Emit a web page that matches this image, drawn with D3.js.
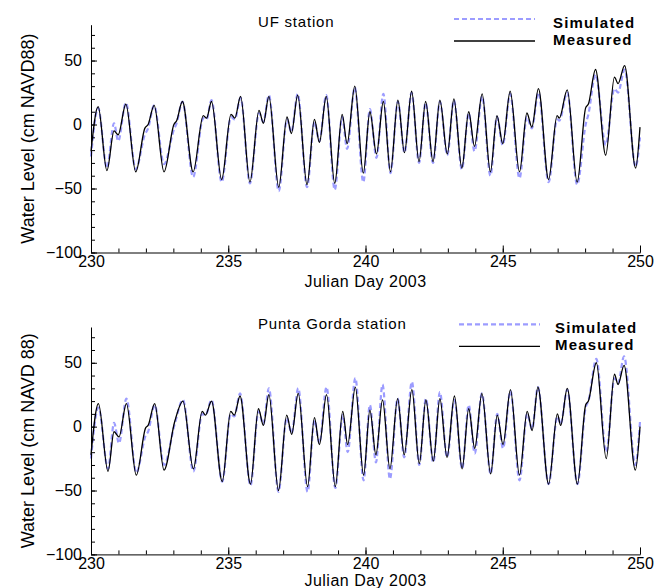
<!DOCTYPE html>
<html>
<head>
<meta charset="utf-8">
<script src="https://cdn.jsdelivr.net/npm/d3@7"></script>
<style>
  html, body { margin: 0; padding: 0; background: #fff; }
  svg { display: block; font-family: "Liberation Sans", Arial, sans-serif; }
</style>
</head>
<body>
<svg id="chart" width="670" height="588"></svg>
<script>
// Tidal water levels, Julian days 230-250 of 2003 (high/low turning points)
const ufDays = [230.00,230.26,230.58,230.84,230.99,231.27,231.63,231.96,232.08,232.30,232.66,233.02,233.12,233.33,233.72,234.09,234.21,234.39,234.76,235.10,235.24,235.45,235.79,236.12,236.28,236.48,236.84,237.14,237.30,237.53,237.87,238.14,238.32,238.57,238.88,239.15,239.33,239.61,239.92,240.16,240.40,240.65,240.91,241.18,241.42,241.68,241.95,242.19,242.46,242.71,242.98,243.22,243.51,243.76,243.97,244.25,244.55,244.79,245.00,245.27,245.61,245.88,246.06,246.30,246.67,246.98,247.06,247.35,247.71,248.02,248.12,248.38,248.75,249.07,249.20,249.44,249.84,250.00];
const ufMeasured = [-21,14,-36,-5,-8,16,-37,-3,0,15,-37,0,3,18,-37,7,5,18,-43,8,5,22,-45,11,1,22,-49,6,-7,23,-47,4,-14,22,-46,8,-15,30,-38,10,-23,18,-37,19,-22,26,-29,18,-29,19,-23,20,-34,10,-17,24,-37,7,-15,26,-37,9,-2,28,-43,7,5,27,-45,13,16,43,-24,37,32,46,-34,-2];
const ufSimulated = [-25,13,-34,1,-13,17,-35,-8,-3,15,-31,-4,1,18,-41,5,4,19,-45,6,4,21,-46,9,2,23,-52,4,-6,24,-49,2,-13,23,-51,6,-19,29,-45,12,-26,24,-38,18,-22,25,-30,17,-30,18,-24,19,-35,9,-21,22,-40,6,-16,24,-42,6,-3,25,-45,4,3,25,-47,0,8,39,-16,28,25,43,-33,-10];

const pgDays = [230.00,230.27,230.62,230.84,231.02,231.29,231.65,231.99,232.08,232.32,232.66,233.05,233.35,233.73,234.05,234.17,234.39,234.78,235.09,235.22,235.43,235.81,236.10,236.28,236.48,236.83,237.13,237.31,237.55,237.89,238.14,238.32,238.58,238.90,239.17,239.35,239.63,239.93,240.16,240.38,240.62,240.89,241.17,241.41,241.69,241.96,242.20,242.47,242.71,242.97,243.24,243.52,243.76,243.98,244.24,244.56,244.80,245.01,245.28,245.61,245.89,246.07,246.28,246.67,246.99,247.11,247.35,247.72,248.02,248.12,248.41,248.77,249.07,249.20,249.42,249.83,250.00];
const pgMeasured = [-22,18,-35,-4,-8,18,-38,-1,1,18,-34,4,20,-33,12,9,20,-43,12,9,24,-45,14,1,25,-50,9,-6,26,-47,7,-14,25,-47,12,-14,31,-38,13,-22,21,-33,22,-22,29,-29,21,-27,22,-24,24,-33,14,-17,26,-37,9,-14,29,-38,12,-3,31,-45,10,1,30,-45,17,20,50,-25,41,33,48,-34,0];
const pgSimulated = [-25,15,-33,3,-13,22,-36,-7,-4,17,-30,2,21,-35,10,9,21,-43,10,8,26,-46,12,2,30,-51,7,-5,30,-51,5,-13,31,-48,9,-20,38,-42,17,-28,33,-41,22,-24,35,-30,22,-28,27,-24,21,-33,17,-21,26,-37,10,-17,28,-42,10,-2,31,-45,8,2,29,-45,15,20,53,-20,38,34,55,-30,4];

const xDomain = [230, 250];
const yDomain = [-100, 78];
const xMajorTicks = [230, 235, 240, 245, 250];
const yMajorTicks = [-100, -50, 0, 50];
const xLabel = "Julian Day 2003";
const seriesNames = ["Simulated", "Measured"];

const panels = [
  { title: "UF station", yLabel: "Water Level (cm NAVD88)", days: ufDays, measured: ufMeasured, simulated: ufSimulated,
    top: 24.7, bottom: 252.5, titleY: 27, legendY: 19, legendX: 454, legendTextX: 553, xLabelY: 286.5 },
  { title: "Punta Gorda station", yLabel: "Water Level (cm NAVD 88)", days: pgDays, measured: pgMeasured, simulated: pgSimulated,
    top: 327, bottom: 554.4, titleY: 329, legendY: 324.3, legendX: 459, legendTextX: 555, xLabelY: 586 }
];

const svg = d3.select("#chart");
const left = 91, right = 640;
const simColor = "#9c9cff";
const simDash = "5,3";

panels.forEach(p => {
  const x = d3.scaleLinear().domain(xDomain).range([left, right]);
  const y = d3.scaleLinear().domain(yDomain).range([p.bottom, p.top]);
  const g = svg.append("g");

  // series
  const line = (vals) => d3.line()
    .x((d, i) => x(p.days[i]))
    .y(d => y(d))
    .curve(d3.curveMonotoneX)(vals);

  g.append("path").attr("d", line(p.simulated))
    .attr("fill", "none").attr("stroke", simColor)
    .attr("stroke-width", 2.2).attr("stroke-dasharray", simDash);
  g.append("path").attr("d", line(p.measured))
    .attr("fill", "none").attr("stroke", "#000")
    .attr("stroke-width", 1.3).attr("stroke-linejoin", "round");

  // minor ticks
  g.append("g").attr("transform", `translate(${left},0)`)
    .call(d3.axisLeft(y).tickValues(d3.range(-100, 71, 10)).tickSize(-4).tickSizeOuter(0).tickFormat(""))
    .call(s => s.select(".domain").remove());
  g.append("g").attr("transform", `translate(0,${p.bottom})`)
    .call(d3.axisBottom(x).tickValues(d3.range(230, 251, 1)).tickSize(-4).tickSizeOuter(0).tickFormat(""))
    .call(s => s.select(".domain").remove());

  // major axes
  const ya = g.append("g").attr("transform", `translate(${left},0)`)
    .call(d3.axisLeft(y).tickValues(yMajorTicks).tickSize(-6).tickSizeOuter(0).tickPadding(9));
  const xa = g.append("g").attr("transform", `translate(0,${p.bottom})`)
    .call(d3.axisBottom(x).tickValues(xMajorTicks).tickSize(-7).tickSizeOuter(0).tickPadding(3));
  [ya, xa].forEach(a => {
    a.selectAll("text").attr("font-size", 16).attr("fill", "#000")
      .attr("font-family", "'Liberation Sans', Arial, sans-serif");
    a.selectAll("line").attr("stroke", "#000");
    a.select(".domain").attr("stroke", "#000");
  });

  // axis titles
  g.append("text")
    .attr("x", (left + right) / 2).attr("y", p.xLabelY)
    .attr("text-anchor", "middle").attr("font-size", 16).attr("letter-spacing", 0.5).text(xLabel);
  g.append("text")
    .attr("transform", `translate(34,${(p.top + p.bottom) / 2}) rotate(-90)`)
    .attr("text-anchor", "middle").attr("font-size", 18).text(p.yLabel);

  // station title
  g.append("text").attr("x", 258).attr("y", p.titleY)
    .attr("font-size", 15).attr("letter-spacing", 0.8).text(p.title);

  // legend
  const lg = g.append("g");
  lg.append("line").attr("x1", p.legendX).attr("x2", p.legendX + 81)
    .attr("y1", p.legendY).attr("y2", p.legendY)
    .attr("stroke", simColor).attr("stroke-width", 2.2).attr("stroke-dasharray", simDash);
  lg.append("line").attr("x1", p.legendX).attr("x2", p.legendX + 81)
    .attr("y1", p.legendY + 22).attr("y2", p.legendY + 22)
    .attr("stroke", "#000").attr("stroke-width", 1.3);
  lg.selectAll("text.leg").data(seriesNames).join("text").attr("class", "leg")
    .attr("x", p.legendTextX).attr("y", (d, i) => p.legendY + 9 + i * 17)
    .attr("font-size", 15).attr("font-weight", "bold").attr("letter-spacing", 1.2)
    .text(d => d);
});
</script>
</body>
</html>
